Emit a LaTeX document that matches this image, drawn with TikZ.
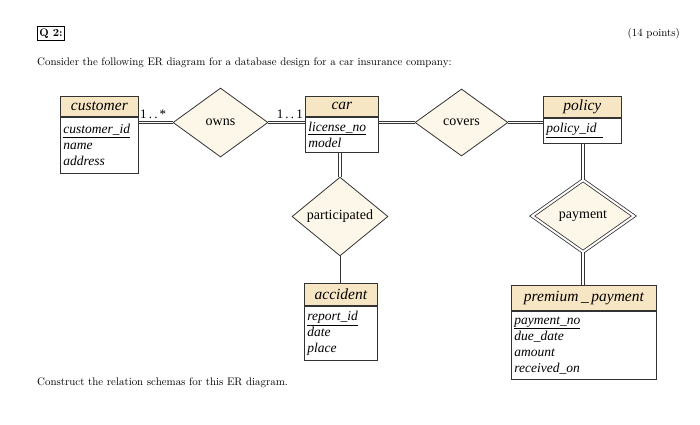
\documentclass[tikz,border=0pt]{standalone}
\usepackage{fontspec}
\newfontfamily\erfont{Liberation Serif}
\usetikzlibrary{shapes.geometric,positioning}
\definecolor{headtan}{HTML}{F7E6C4}
\definecolor{relcream}{HTML}{FDF7E9}
\definecolor{erline}{HTML}{333333}
\tikzset{
  enthead/.style={draw=erline, line width=0.8pt, fill=headtan, inner sep=0pt,
    font=\erfont\itshape\fontsize{15.5}{16}\selectfont},
  entbody/.style={draw=erline, line width=0.8pt, fill=white, inner xsep=3pt, inner ysep=0pt,
    align=left, font=\erfont\itshape\fontsize{13.5}{16}\selectfont},
  relship/.style={diamond, draw=erline, line width=0.8pt, fill=relcream, inner sep=0pt,
    font=\erfont\fontsize{14}{16}\selectfont},
  total/.style={draw=erline, line width=0.8pt, double=white, double distance=1.6pt},
  partial/.style={draw=erline, line width=0.9pt},
  card/.style={font=\erfont\fontsize{13}{13}\selectfont, inner sep=1pt},
  plain/.style={font=\fontsize{10.9}{13}\selectfont, inner sep=0pt}
}
\begin{document}
\begin{tikzpicture}[x=1pt,y=-1pt]
  \useasboundingbox[fill=white] (0,0) rectangle (700,424);
  % question header
  \node[draw, line width=0.6pt, inner sep=2pt, anchor=west, font=\bfseries\fontsize{10.9}{13}\selectfont] (qnum) at (37,33.5) {Q 2:};
  \node[plain, anchor=east] (points) at (680,33.5) {(14 points)};
  \node[plain, anchor=west] (intro) at (37,63) {Consider the following ER diagram for a database design for a car insurance company:};
  % entities
  \node[enthead, minimum width=78pt, minimum height=20pt, anchor=north west] (custhead) at (60,96) {customer};
  \node[entbody, text width=72pt, minimum height=56pt, below=0pt of custhead] (custbody) {\underline{customer\_id}\\name\\address};
  \node[enthead, minimum width=73pt, minimum height=20pt, anchor=north west] (carhead) at (305,96) {car};
  \node[entbody, text width=67pt, minimum height=35pt, below=0pt of carhead] (carbody) {\underline{license\_no}\\model};
  \node[enthead, minimum width=78pt, minimum height=21pt, anchor=north west] (polhead) at (543,96) {policy};
  \node[entbody, text width=72pt, minimum height=25pt, below=0pt of polhead] (polbody) {\underline{policy\_id\phantom{x}}};
  \node[enthead, minimum width=73pt, minimum height=22pt, anchor=north west] (acchead) at (304,283) {accident};
  \node[entbody, text width=67pt, minimum height=54pt, below=0pt of acchead] (accbody) {\underline{report\_id}\\date\\place};
  \node[enthead, minimum width=145pt, minimum height=25pt, anchor=north west] (premhead) at (511,285) {premium\,\_\,payment};
  \node[entbody, text width=139pt, minimum height=68pt, below=0pt of premhead] (prembody) {\underline{payment\_no}\\due\_date\\amount\\received\_on};
  % relationships
  \node[relship, minimum width=95pt, minimum height=69pt] (owns) at (220.5,122.5) {owns};
  \node[relship, minimum width=93pt, minimum height=67pt] (covers) at (461.5,122.5) {covers};
  \node[relship, minimum width=96pt, minimum height=67pt] (particip) at (340,216.5) {participated};
  \node[relship, minimum width=102pt, minimum height=72pt, double=white, double distance=2pt] (payment) at (583,216) {payment};
  % connectors
  \draw[total] (owns.west -| custbody.east) -- (owns.west);
  \draw[total] (owns.east) -- (owns.east -| carbody.west);
  \draw[total] (covers.west -| carbody.east) -- (covers.west);
  \draw[total] (covers.east) -- (covers.east -| polbody.west);
  \draw[total] (particip.north |- carbody.south) -- (particip.north);
  \draw[partial] (particip.south) -- (particip.south |- acchead.north);
  \draw[total] (payment.north |- polbody.south) -- (payment.north);
  \draw[total] (payment.south) -- (payment.south |- premhead.north);
  % cardinalities
  \node[card, anchor=south west] (cardmany) at (139,120) {1\,.\,.\,*};
  \node[card, anchor=south east] (cardone) at (304,120) {1\,.\,.\,1};
  % task
  \node[plain, anchor=west] (task) at (37,383) {Construct the relation schemas for this ER diagram.};
\end{tikzpicture}
\end{document}
